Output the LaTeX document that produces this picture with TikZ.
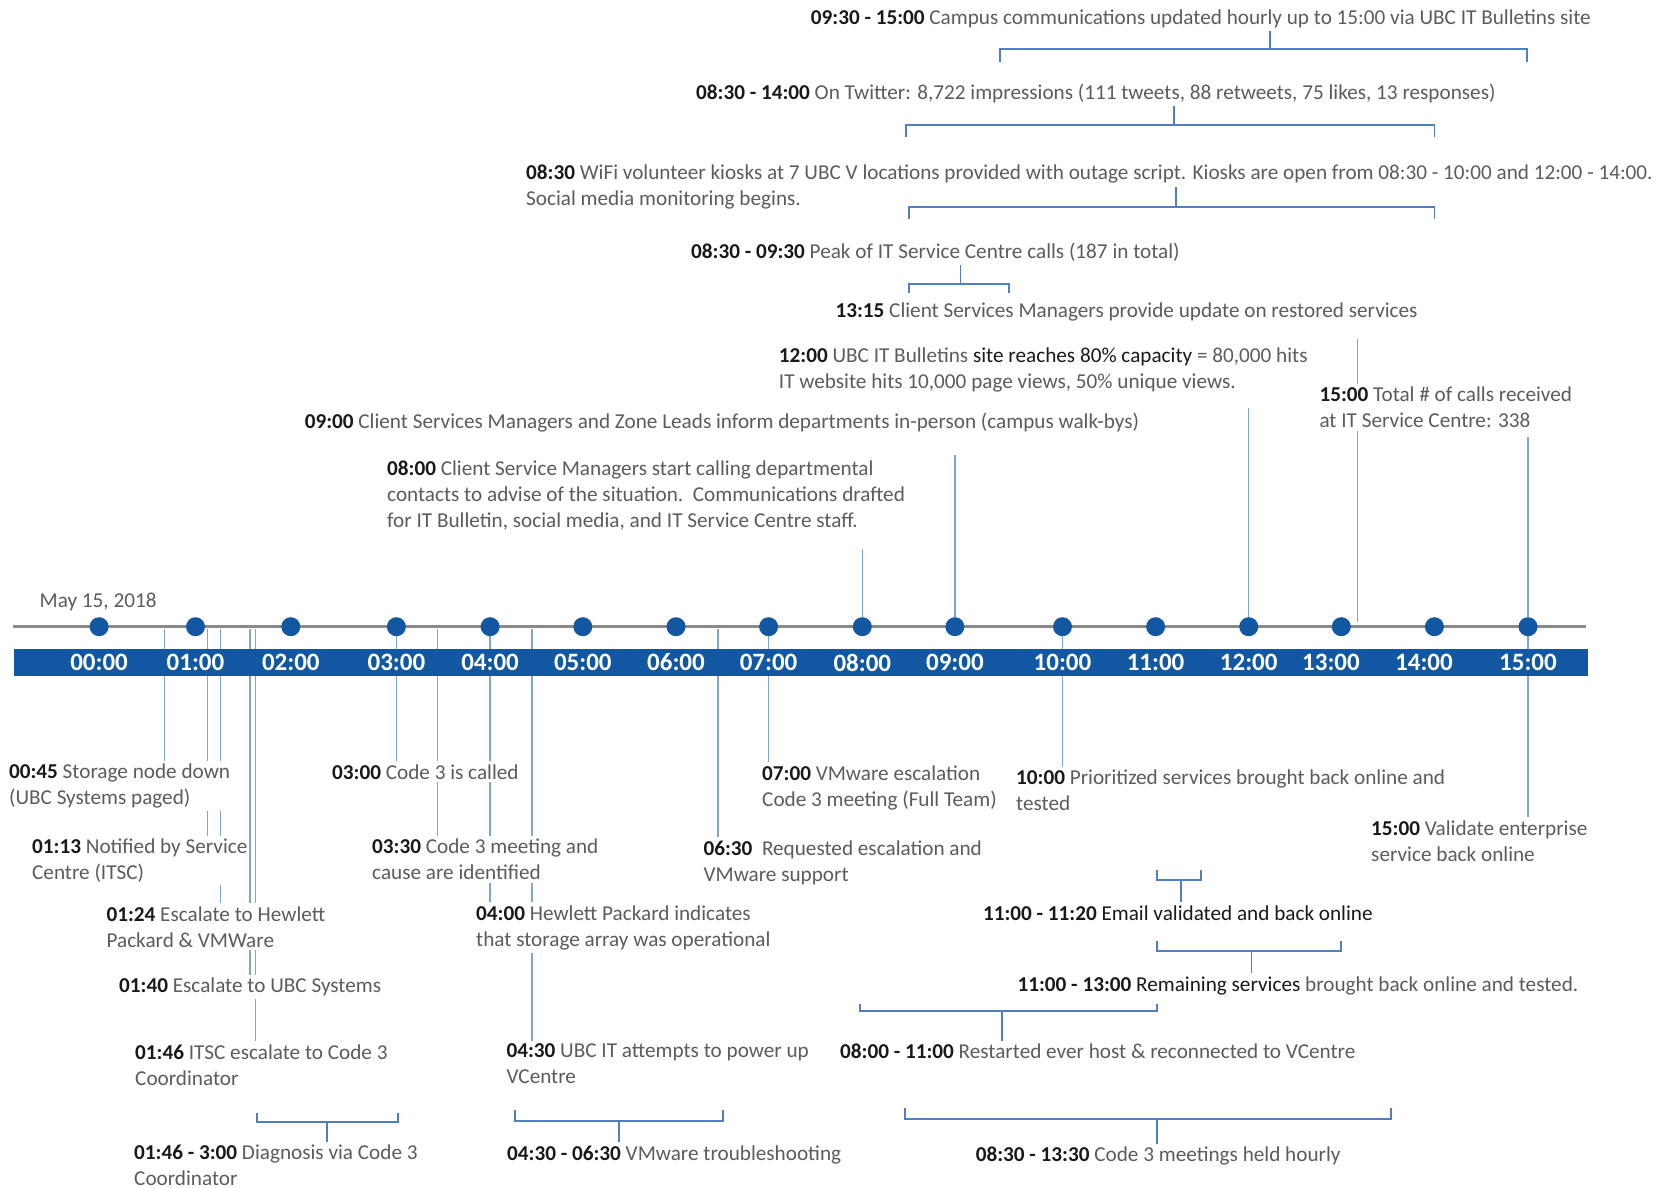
\documentclass[tikz,border=0pt]{standalone}
\usepackage{fontspec}
\setmainfont{Carlito}
\usetikzlibrary{calc}
\pgfdeclarelayer{back}
\pgfdeclarelayer{bg}
\pgfsetlayers{back,bg,main}
\definecolor{barblue}{RGB}{17,87,161}
\definecolor{connblue}{RGB}{125,165,216}
\definecolor{brblue}{RGB}{79,127,192}
\definecolor{axisgray}{RGB}{138,138,138}
\definecolor{txtgray}{RGB}{92,92,92}
\definecolor{txtdark}{RGB}{25,25,25}
\newcommand{\tb}[1]{\textbf{\color{txtdark}#1}}
\newcommand{\td}[1]{{\color{txtdark}#1}}
\newcommand{\ev}[4]{\node[ev] (#1) at (#2,{#3-12}) {#4};}
\begin{document}
\begin{tikzpicture}[x=1pt,y=-1pt,
  ev/.style={anchor=north west, inner xsep=0pt, inner ysep=3pt, fill=white, align=left, text=txtgray, font=\fontsize{21.2}{26}\selectfont},
  conn/.style={draw=connblue, line width=1.3pt},
  brk/.style={draw=brblue, line width=1.8pt},
  dot/.style={circle, fill=barblue, minimum size=19pt, inner sep=0pt},
  blab/.style={text=white, font=\fontsize{25}{30}\selectfont\bfseries, inner sep=0pt}]
\useasboundingbox (0,0) rectangle (1674,1188);
\begin{pgfonlayer}{back}
\fill[white] (0,0) rectangle (1674,1188);
\end{pgfonlayer}
% axis
\coordinate (axL) at (13.4,626.7);
\coordinate (axR) at (1586.2,626.7);
\draw[axisgray, line width=2.8pt] (axL) -- (axR);
\node[fill=barblue, minimum width=1574.4pt, minimum height=27.7pt, inner sep=0pt, anchor=north west] (bar) at (13.4,648.3) {};
\foreach \n/\x in {00/99.1,01/195.5,02/290.8,03/396.4,04/490.1,05/582.8,06/676,07/768.6,08/862.3,09/954.9,10/1062.5,11/1155.6,12/1248.7,13/1341.3,14/1434.4,15/1528}
  \node[dot] (d\n) at (\x,626.7) {};
\foreach \n/\x in {00/99.1,01/195.5,02/290.8,03/396.4,04/490.1,05/582.8,06/676,07/768.6,08/862.3,09/954.9,10/1062.5,11/1155.6,12/1248.7,13/1331,14/1424,15/1528}
  \node[blab] (l\n) at (\x,662.5) {\n:00};
\node[ev, anchor=west, fill=none] (date) at (39.5,602) {May 15, 2018};
% top texts
\ev{t0930}{810.7}{18.3}{\tb{09:30 - 15:00} Campus communications updated hourly up to 15:00 via UBC IT Bulletins site}
\ev{t0830tw}{696}{92.7}{\tb{08:30 - 14:00} On Twitter: 8,722 impressions (111 tweets, 88 retweets, 75 likes, 13 responses)}
\ev{t0830w}{526}{174}{\tb{08:30} WiFi volunteer kiosks at 7 UBC V locations provided with outage script. Kiosks are open from 08:30 - 10:00 and 12:00 - 14:00.}
\ev{t0830wb}{526}{199.3}{Social media monitoring begins.}
\ev{t0830p}{691}{251.7}{\tb{08:30 - 09:30} Peak of IT Service Centre calls (187 in total)}
\ev{t1315}{835.4}{311.7}{\tb{13:15} Client Services Managers provide update on restored services}
\ev{t1200}{778.7}{356.5}{\tb{12:00} UBC IT Bulletins \td{site reaches 80\% capacity} = 80,000 hits\\IT website hits 10,000 page views, 50\% unique views.}
\ev{t1500a}{1319.3}{395.5}{\tb{15:00} Total \# of calls received\\at IT Service Centre: 338}
\ev{t0900}{304.6}{422}{\tb{09:00} Client Services Managers and Zone Leads inform departments in-person (campus walk-bys)}
\ev{t0800}{387}{469.2}{\tb{08:00} Client Service Managers start calling departmental\\contacts to advise of the situation.\ \ Communications drafted\\for IT Bulletin, social media, and IT Service Centre staff.}
% bottom texts
\ev{t0045}{8.9}{772.8}{\tb{00:45} Storage node down\\(UBC Systems paged)}
\ev{t0113}{32}{847.5}{\tb{01:13} Notified by Service\\Centre (ITSC)}
\ev{t0124}{106.4}{915.2}{\tb{01:24} Escalate to Hewlett\\Packard \& VMWare}
\ev{t0140}{119}{986.5}{\tb{01:40} Escalate to UBC Systems}
\ev{t0146}{135}{1053.2}{\tb{01:46} ITSC escalate to Code 3\\Coordinator}
\ev{t0146r}{134}{1153.5}{\tb{01:46 - 3:00} Diagnosis via Code 3\\Coordinator}
\ev{t0300}{332}{773.2}{\tb{03:00} Code 3 is called}
\ev{t0330}{372}{847.5}{\tb{03:30} Code 3 meeting and\\cause are identified}
\ev{t0400}{476}{914.2}{\tb{04:00} Hewlett Packard indicates\\that storage array was operational}
\ev{t0430}{506.4}{1052.8}{\tb{04:30} UBC IT attempts to power up\\VCentre}
\ev{t0430r}{507}{1154.2}{\tb{04:30 - 06:30} VMware troubleshooting}
\ev{t0630}{703.4}{849.2}{\tb{06:30}\ \ Requested escalation and\\VMware support}
\ev{t0700}{762}{774.2}{\tb{07:00} VMware escalation\\Code 3 meeting (Full Team)}
\ev{t1000}{1016}{778.5}{\tb{10:00} Prioritized services brought back online and\\tested}
\ev{t1500b}{1371}{829.2}{\tb{15:00} Validate enterprise\\service back online}
\ev{t1100a}{982.8}{914.2}{\tb{11:00 - 11:20} \td{Email validated and back online}}
\ev{t1100b}{1017.4}{985.2}{\tb{11:00 - 13:00} \td{Remaining services} brought back online and tested.}
\ev{t0800r}{840}{1052.8}{\tb{08:00 - 11:00} Restarted ever host \& reconnected to VCentre}
\ev{t0830r}{975.6}{1155.8}{\tb{08:30 - 13:30} Code 3 meetings held hourly}
% axis anchor coordinates for off-dot events
\coordinate (a0045) at (164.5,629);
\coordinate (a0113) at (207.5,629);
\coordinate (a0124) at (220.2,629);
\coordinate (a0140) at (250,629);
\coordinate (a0146) at (255.8,629);
\coordinate (a0330) at (437.8,629);
\coordinate (a0430) at (531.9,629);
\coordinate (a0630) at (718,629);
\coordinate (a1315) at (1357.8,622);
\begin{pgfonlayer}{bg}
  \draw[conn] (a0045) -- (a0045 |- t0045.north);
  \draw[conn] (a0113) -- (a0113 |- t0113.north);
  \draw[conn] (a0124) -- (a0124 |- t0124.north);
  \draw[conn] (a0140) -- (a0140 |- t0140.north);
  \draw[conn] (a0146) -- (a0146 |- t0146.north);
  \draw[conn] (d03) -- (d03 |- t0300.north);
  \draw[conn] (a0330) -- (a0330 |- t0330.north);
  \draw[conn] (d04) -- (d04 |- t0400.north);
  \draw[conn] (a0430) -- (a0430 |- t0430.north);
  \draw[conn] (a0630) -- (a0630 |- t0630.north);
  \draw[conn] (d07) -- (d07 |- t0700.north);
  \draw[conn] (d10) -- (d10 |- t1000.north);
  \draw[conn] (d15) -- (d15 |- t1500b.north);
  \draw[conn] (d08) -- ($(d08 |- t0800.south)+(0,16)$);
  \draw[conn] (d09) -- ($(d09 |- t0900.south)+(0,19)$);
  \draw[conn] (d12) -- ($(d12 |- t1200.south)+(0,13)$);
  \draw[conn] (d15) -- ($(d15 |- t1500a.south)+(0,6)$);
  \draw[conn] (a1315) -- ($(a1315 |- t1315.south)+(0,15)$);
\end{pgfonlayer}
% top brackets
\draw[brk] (1000,61.7) -- (1000,49.3) -- (1527.3,49.3) -- (1527.3,61.7);
\coordinate (s1) at (1269.7,49.3);
\draw[brk] (s1) -- (s1 |- t0930.south);
\draw[brk] (905.8,136.7) -- (905.8,125) -- (1434.4,125) -- (1434.4,136.7);
\coordinate (s2) at (1173.9,125);
\draw[brk] (s2) -- (s2 |- t0830tw.south);
\draw[brk] (908.8,219.3) -- (908.8,207.3) -- (1434.4,207.3) -- (1434.4,219.3);
\coordinate (s3) at (1176,207.3);
\draw[brk] (s3) -- (s3 |- t0830w.south);
\draw[brk] (908.8,293.3) -- (908.8,284) -- (1009,284) -- (1009,293.3);
\coordinate (s4) at (960.5,284);
\draw[brk] (s4) -- (s4 |- t0830p.south);
% bottom brackets
\draw[brk] (257,1113) -- (257,1121.7) -- (398,1121.7) -- (398,1113);
\coordinate (s5) at (327,1121.7);
\draw[brk] (s5) -- (s5 |- t0146r.north);
\draw[brk] (514.8,1110) -- (514.8,1120.7) -- (723,1120.7) -- (723,1110);
\coordinate (s6) at (618.9,1120.7);
\draw[brk] (s6) -- (s6 |- t0430r.north);
\draw[brk] (859.6,1004) -- (859.6,1010.7) -- (1156.7,1010.7) -- (1156.7,1004);
\coordinate (s7) at (1002.3,1010.7);
\draw[brk] (s7) -- (s7 |- t0800r.north);
\draw[brk] (904.8,1108) -- (904.8,1119.3) -- (1390.9,1119.3) -- (1390.9,1108);
\coordinate (s8) at (1156.7,1119.3);
\draw[brk] (s8) -- (s8 |- t0830r.north);
\draw[brk] (1156.7,870) -- (1156.7,880) -- (1201.3,880) -- (1201.3,870);
\coordinate (s9) at (1180.7,880);
\draw[brk] (s9) -- (s9 |- t1100a.north);
\draw[brk] (1156.7,940.7) -- (1156.7,950.7) -- (1340.7,950.7) -- (1340.7,940.7);
\coordinate (s10) at (1251.5,950.7);
\draw[brk] (s10) -- (s10 |- t1100b.north);
\end{tikzpicture}
\end{document}
